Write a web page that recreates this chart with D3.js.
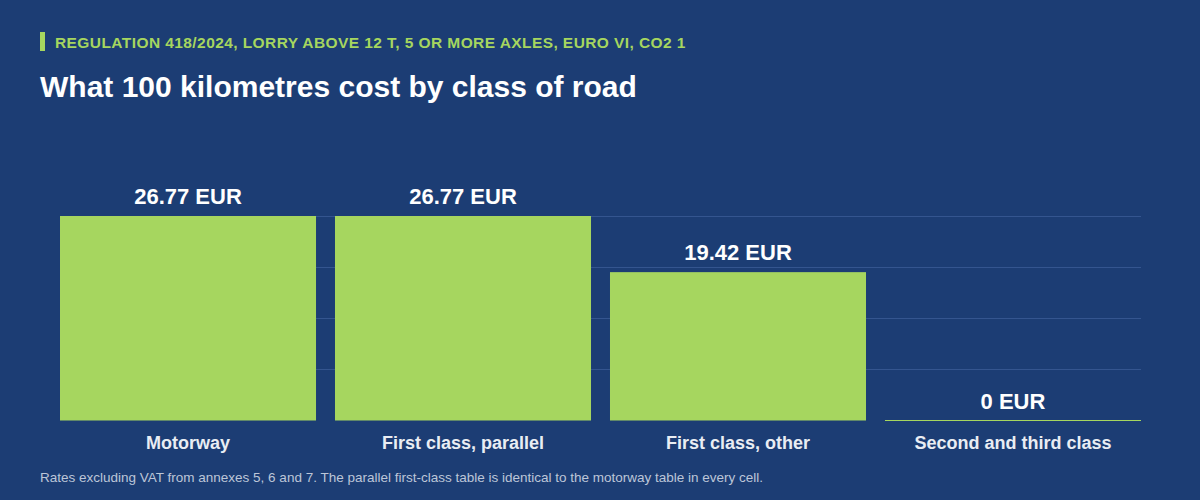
<!DOCTYPE html>
<html><head><meta charset="utf-8">
<script src="https://cdn.jsdelivr.net/npm/d3@7"></script>
<style>
html,body{margin:0;padding:0;background:#1c3d74;}
svg{display:block;font-family:"Liberation Sans",Arial,Helvetica,sans-serif;}
</style></head>
<body>
<svg id="chart" width="1200" height="500"></svg>
<script>
const categories = ["Motorway", "First class, parallel", "First class, other", "Second and third class"];
const values = [26.77, 26.77, 19.42, 0];
const valueLabels = ["26.77 EUR", "26.77 EUR", "19.42 EUR", "0 EUR"];
const subtitle = "REGULATION 418/2024, LORRY ABOVE 12 T, 5 OR MORE AXLES, EURO VI, CO2 1";
const title = "What 100 kilometres cost by class of road";
const footnote = "Rates excluding VAT from annexes 5, 6 and 7. The parallel first-class table is identical to the motorway table in every cell.";

const W = 1200, H = 500;
const margin = {left: 60, right: 59, top: 216, bottom: 79.5};
const svg = d3.select("#chart");
svg.append("rect").attr("width", W).attr("height", H).attr("fill", "#1c3d74");

const x = d3.scaleBand().domain(categories).range([margin.left, W - margin.right]).paddingInner(0.069).paddingOuter(0);
const yMax = d3.max(values);
const y = d3.scaleLinear().domain([0, yMax]).range([H - margin.bottom, margin.top]);

// gridlines
const gridTicks = [0.25, 0.5, 0.75, 1].map(f => f * yMax);
svg.append("g").selectAll("line").data(gridTicks).join("line")
  .attr("x1", margin.left).attr("x2", W - margin.right)
  .attr("y1", d => Math.round(y(d)) + 0.5).attr("y2", d => Math.round(y(d)) + 0.5)
  .attr("stroke", "#34558f").attr("stroke-width", 1);

// bars
svg.append("g").selectAll("rect").data(values).join("rect")
  .attr("x", (d, i) => x(categories[i]))
  .attr("width", x.bandwidth())
  .attr("y", d => y(d))
  .attr("height", d => y(0) - y(d))
  .attr("fill", "#a6d65f");

// zero baseline for empty bar
svg.append("g").selectAll("line").data(values.map((v, i) => i).filter(i => values[i] === 0)).join("line")
  .attr("x1", i => x(categories[i])).attr("x2", i => x(categories[i]) + x.bandwidth())
  .attr("y1", y(0)).attr("y2", y(0))
  .attr("stroke", "#a6d65f").attr("stroke-width", 1.2);

// value labels
svg.append("g").selectAll("text").data(values).join("text")
  .attr("x", (d, i) => x(categories[i]) + x.bandwidth() / 2)
  .attr("y", d => y(d) - 12)
  .attr("text-anchor", "middle")
  .attr("fill", "#ffffff").attr("font-weight", "bold").attr("font-size", 22)
  .text((d, i) => valueLabels[i]);

// category axis labels
const xAxis = d3.axisBottom(x).tickSize(0).tickPadding(0);
const gx = svg.append("g").attr("transform", `translate(0,${y(0)})`).call(xAxis);
gx.select(".domain").remove();
gx.selectAll("text")
  .attr("y", 28).attr("dy", 0)
  .attr("fill", "#e9edf3").attr("font-size", 18).attr("font-weight", "bold")
  .attr("font-family", '"Liberation Sans",Arial,Helvetica,sans-serif');

// header
svg.append("rect").attr("x", 40).attr("y", 32).attr("width", 5).attr("height", 19).attr("fill", "#a6d65f");
svg.append("text").attr("x", 55).attr("y", 48).attr("fill", "#a6d65f")
  .attr("font-size", 15.5).attr("letter-spacing", 0.42).attr("font-weight", "bold").text(subtitle);
svg.append("text").attr("x", 40).attr("y", 97).attr("fill", "#ffffff")
  .attr("font-size", 30).attr("font-weight", "bold").text(title);
svg.append("text").attr("x", 40).attr("y", 482).attr("fill", "#bcc6d8")
  .attr("font-size", 13.5).text(footnote);
</script>
</body></html>
